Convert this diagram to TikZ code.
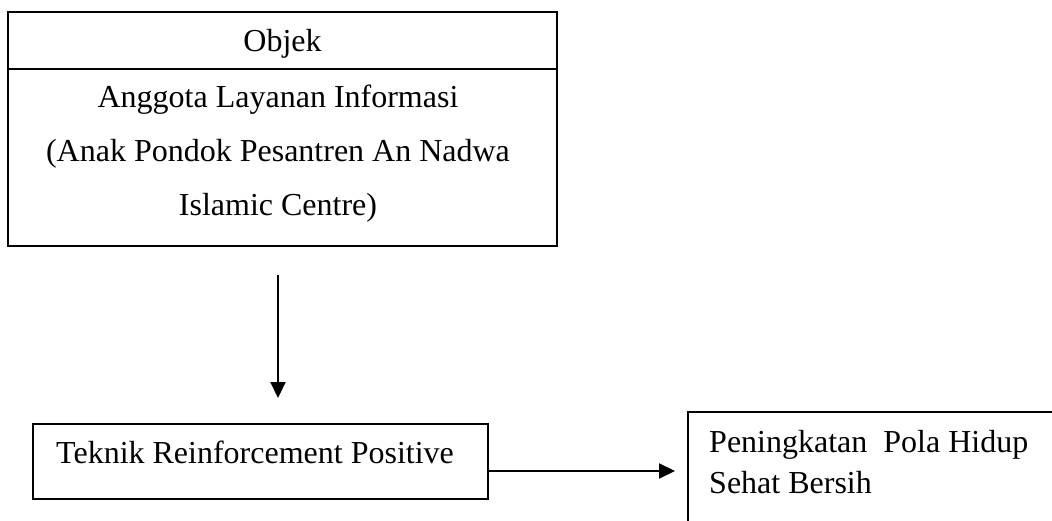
\documentclass[tikz,border=0pt]{standalone}
\usepackage{fontspec}
\setmainfont{Liberation Serif}
\usetikzlibrary{arrows.meta}
\begin{document}
\begin{tikzpicture}[x=1pt,y=-1pt,
  box/.style={draw, line width=1.8pt, inner sep=0pt},
  txt/.style={font=\fontsize{32}{54}\selectfont, inner sep=0pt},
  arr/.style={line width=2.2pt, -{Triangle[length=16pt,width=15pt]}}]
\useasboundingbox (0,0) rectangle (1052,521);
% top box
\node[box, minimum width=549pt, minimum height=57pt] (objek) at (282.5,40.5) {};
\node[box, minimum width=549pt, minimum height=177pt] (anggota) at (282.5,157.5) {};
\node[txt, anchor=base] (objekt) at (282.5,52) {Objek};
\node[txt, anchor=base] (l1) at (278,108) {Anggota Layanan Informasi};
\node[txt, anchor=base] (l2) at (278,162) {(Anak Pondok Pesantren An Nadwa};
\node[txt, anchor=base] (l3) at (278,216) {Islamic Centre)};
% vertical arrow
\coordinate (a1) at (278,275);
\coordinate (a2) at (278,398);
\draw[arr] (a1) -- (a2);
% teknik box
\node[box, minimum width=455pt, minimum height=75pt] (teknik) at (260.5,461.5) {};
\node[txt, anchor=base west] (teknikt) at (56,463) {Teknik Reinforcement Positive};
% horizontal arrow
\coordinate (h2) at (675,471);
\draw[arr] (teknik.east |- h2) -- (h2);
% right box (open)
\coordinate (r1) at (688,521);
\coordinate (r2) at (688,412);
\coordinate (r3) at (1052,412);
\draw[line width=1.8pt] (r1) -- (r2) -- (r3);
\node[txt, anchor=base west] (p1) at (709,452) {Peningkatan\ \ Pola Hidup};
\node[txt, anchor=base west] (p2) at (709,493) {Sehat Bersih};
\end{tikzpicture}
\end{document}
